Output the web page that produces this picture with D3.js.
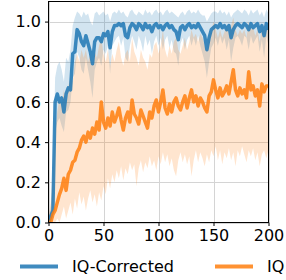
<!DOCTYPE html>
<html>
<head>
<meta charset="utf-8">
<script src="https://cdn.jsdelivr.net/npm/d3@7"></script>
<style>
  html, body { margin: 0; padding: 0; background: #fff; }
  svg { display: block; font-family: "DejaVu Sans", sans-serif; }
</style>
</head>
<body>
<div id="chart"></div>
<script>
// x positions, every 2 steps from 0 to 200
const steps = d3.range(0, 201, 2);

const xTicks = [0, 50, 100, 150, 200];
const yTicks = [0.0, 0.2, 0.4, 0.6, 0.8, 1.0];

const seriesNames = ["IQ-Corrected", "IQ"];

// IQ-Corrected mean and band
const correctedMean = [
  0.00, 0.03, 0.06, 0.60, 0.64, 0.60, 0.62, 0.55, 0.64, 0.67,
  0.66, 0.84, 0.85, 0.96, 0.94, 0.90, 0.88, 0.93, 0.89, 0.85,
  0.79, 0.90, 0.92, 0.92, 0.90, 0.94, 0.93, 0.95, 0.87, 0.95,
  0.98, 0.98, 0.99, 0.98, 0.99, 0.93, 0.92, 0.97, 0.99, 0.98,
  0.96, 0.99, 0.98, 0.96, 0.99, 0.97, 0.98, 0.95, 0.98, 0.99,
  0.97, 0.98, 0.96, 0.98, 0.99, 0.97, 0.98, 0.96, 0.95, 0.91,
  0.97, 0.98, 0.96, 0.98, 0.99, 0.97, 0.98, 0.97, 0.99, 0.97,
  0.95, 0.93, 0.86, 0.92, 0.96, 0.97, 0.98, 0.97, 0.99, 0.97,
  0.98, 0.96, 0.98, 0.92, 0.96, 0.98, 0.99, 0.98, 0.97, 0.99,
  0.98, 0.96, 0.99, 0.97, 0.98, 0.99, 0.95, 0.98, 0.93, 0.99,
  0.96
];
const correctedLow = [
  0.00, 0.00, 0.02, 0.45, 0.50, 0.52, 0.48, 0.45, 0.55, 0.56,
  0.60, 0.72, 0.74, 0.85, 0.82, 0.76, 0.74, 0.82, 0.76, 0.70,
  0.62, 0.76, 0.80, 0.82, 0.78, 0.86, 0.84, 0.88, 0.74, 0.88,
  0.90, 0.92, 0.93, 0.88, 0.92, 0.82, 0.80, 0.88, 0.93, 0.90,
  0.86, 0.93, 0.90, 0.85, 0.93, 0.88, 0.91, 0.84, 0.90, 0.93,
  0.88, 0.92, 0.86, 0.91, 0.93, 0.87, 0.91, 0.85, 0.84, 0.78,
  0.89, 0.92, 0.86, 0.91, 0.93, 0.88, 0.92, 0.88, 0.93, 0.88,
  0.84, 0.80, 0.72, 0.80, 0.87, 0.89, 0.92, 0.88, 0.93, 0.89,
  0.92, 0.86, 0.91, 0.80, 0.87, 0.92, 0.93, 0.91, 0.88, 0.93,
  0.92, 0.86, 0.93, 0.89, 0.91, 0.93, 0.85, 0.91, 0.82, 0.93,
  0.88
];
const correctedHigh = [
  0.02, 0.08, 0.20, 0.72, 0.78, 0.80, 0.76, 0.70, 0.82, 0.80,
  0.86, 0.98, 1.02, 1.05, 1.04, 1.02, 1.05, 1.03, 1.04, 1.00,
  0.98, 1.04, 1.05, 1.03, 1.04, 1.05, 1.03, 1.04, 1.00, 1.04,
  1.05, 1.04, 1.06, 1.04, 1.05, 1.03, 1.02, 1.05, 1.06, 1.04,
  1.03, 1.05, 1.04, 1.03, 1.06, 1.04, 1.05, 1.03, 1.05, 1.06,
  1.04, 1.05, 1.03, 1.05, 1.06, 1.04, 1.05, 1.04, 1.03, 1.02,
  1.04, 1.05, 1.03, 1.05, 1.06, 1.04, 1.05, 1.04, 1.06, 1.04,
  1.03, 1.03, 1.00, 1.02, 1.04, 1.05, 1.05, 1.04, 1.06, 1.04,
  1.05, 1.03, 1.05, 1.02, 1.04, 1.05, 1.06, 1.05, 1.04, 1.06,
  1.05, 1.03, 1.06, 1.04, 1.05, 1.06, 1.03, 1.05, 1.02, 1.06,
  1.04
];

// IQ mean and band
const iqMean = [
  0.00, 0.00, 0.04, 0.06, 0.10, 0.14, 0.17, 0.22, 0.16, 0.24,
  0.26, 0.30, 0.31, 0.35, 0.37, 0.41, 0.43, 0.40, 0.45, 0.42,
  0.47, 0.44, 0.50, 0.46, 0.60, 0.50, 0.47, 0.52, 0.48, 0.55,
  0.50, 0.53, 0.57, 0.51, 0.46, 0.52, 0.55, 0.50, 0.61, 0.54,
  0.52, 0.49, 0.56, 0.53, 0.50, 0.47, 0.55, 0.52, 0.58, 0.61,
  0.55, 0.60, 0.66, 0.57, 0.54, 0.59, 0.55, 0.60, 0.62, 0.58,
  0.56, 0.60, 0.63, 0.57, 0.62, 0.66, 0.60, 0.63, 0.58, 0.62,
  0.60, 0.57, 0.55, 0.63, 0.65, 0.71, 0.66, 0.62, 0.67, 0.63,
  0.65, 0.68, 0.64, 0.70, 0.76, 0.66, 0.63, 0.67, 0.64, 0.66,
  0.62, 0.75, 0.66, 0.68, 0.63, 0.66, 0.58, 0.69, 0.65, 0.68,
  0.68
];
const iqLow = [
  0.00, 0.00, 0.00, 0.00, 0.02, 0.00, 0.04, 0.08, 0.02, 0.06,
  0.10, 0.04, 0.12, 0.07, 0.15, 0.09, 0.13, 0.06, 0.12, 0.16,
  0.10, 0.14, 0.08, 0.15, 0.11, 0.18, 0.14, 0.22, 0.17, 0.24,
  0.20, 0.26, 0.22, 0.28, 0.21, 0.27, 0.24, 0.30, 0.26, 0.29,
  0.18, 0.27, 0.31, 0.25, 0.30, 0.27, 0.33, 0.28, 0.31, 0.26,
  0.33, 0.29, 0.35, 0.30, 0.34, 0.28, 0.32, 0.26, 0.23, 0.31,
  0.35, 0.30, 0.34, 0.29, 0.33, 0.23, 0.31, 0.36, 0.30, 0.35,
  0.32, 0.28, 0.34, 0.30, 0.36, 0.33, 0.38, 0.31, 0.36, 0.29,
  0.35, 0.32, 0.37, 0.31, 0.35, 0.28, 0.36, 0.33, 0.38, 0.34,
  0.30, 0.36, 0.33, 0.37, 0.31, 0.35, 0.28, 0.34, 0.36, 0.32,
  0.36
];
const iqHigh = [
  0.02, 0.10, 0.25, 0.45, 0.55, 0.62, 0.58, 0.66, 0.60, 0.68,
  0.72, 0.70, 0.80, 0.84, 0.80, 0.86, 0.82, 0.86, 0.80, 0.84,
  0.78, 0.85, 0.82, 0.88, 0.92, 0.84, 0.80, 0.86, 0.78, 0.84,
  0.80, 0.86, 0.90, 0.82, 0.78, 0.84, 0.86, 0.80, 0.92, 0.85,
  0.82, 0.78, 0.86, 0.82, 0.80, 0.76, 0.84, 0.82, 0.88, 0.90,
  0.84, 0.88, 0.96, 0.86, 0.82, 0.88, 0.84, 0.90, 0.92, 0.86,
  0.84, 0.88, 0.92, 0.86, 0.90, 0.96, 0.92, 0.94, 0.90, 0.94,
  0.92, 0.88, 0.86, 0.94, 0.95, 1.00, 0.96, 0.92, 0.96, 0.92,
  0.95, 0.98, 0.94, 0.98, 1.02, 0.96, 0.93, 0.96, 0.94, 0.96,
  0.92, 1.00, 0.96, 0.97, 0.93, 0.96, 0.90, 0.97, 0.95, 0.97,
  0.97
];

const width = 286;
const height = 280;
const margin = { top: 1.5, right: 17.5, bottom: 57.5, left: 48.5 };

const svg = d3.select("#chart")
  .append("svg")
  .attr("width", width)
  .attr("height", height);

const x = d3.scaleLinear()
  .domain([0, 200])
  .range([margin.left, width - margin.right]);

const y = d3.scaleLinear()
  .domain([0, 1.1])
  .range([height - margin.bottom, margin.top]);

// grid
svg.append("g")
  .selectAll("line.gx")
  .data(xTicks)
  .join("line")
  .attr("x1", d => Math.round(x(d)) + 0.5)
  .attr("x2", d => Math.round(x(d)) + 0.5)
  .attr("y1", y(1.1))
  .attr("y2", y(0))
  .attr("stroke", "#d4d4d4")
  .attr("stroke-width", 1);

svg.append("g")
  .selectAll("line.gy")
  .data(yTicks)
  .join("line")
  .attr("x1", x(0))
  .attr("x2", x(200))
  .attr("y1", d => Math.round(y(d)) + 0.5)
  .attr("y2", d => Math.round(y(d)) + 0.5)
  .attr("stroke", "#d4d4d4")
  .attr("stroke-width", 1);

const series = [
  { name: seriesNames[0], mean: correctedMean, lo: correctedLow, hi: correctedHigh, color: "#1f77b4" },
  { name: seriesNames[1], mean: iqMean, lo: iqLow, hi: iqHigh, color: "#ff7f0e" }
];

const clip = svg.append("clipPath").attr("id", "plot-clip")
  .append("rect")
  .attr("x", x(0))
  .attr("y", y(1.1))
  .attr("width", x(200) - x(0))
  .attr("height", y(0) - y(1.1));

const plot = svg.append("g").attr("clip-path", "url(#plot-clip)");

const area = d3.area()
  .x((d, i) => x(steps[i]))
  .y0(d => y(d[0]))
  .y1(d => y(d[1]));

const line = d3.line()
  .x((d, i) => x(steps[i]))
  .y(d => y(d));

// bands first, then the mean lines on top
series.forEach(s => {
  plot.append("path")
    .datum(s.lo.map((v, i) => [v, s.hi[i]]))
    .attr("fill", s.color)
    .attr("fill-opacity", 0.2)
    .attr("d", area);
});

series.forEach(s => {
  plot.append("path")
    .datum(s.mean)
    .attr("fill", "none")
    .attr("stroke", s.color)
    .attr("stroke-opacity", 0.85)
    .attr("stroke-width", 3.5)
    .attr("stroke-linejoin", "round")
    .attr("d", line);
});

// axes
const xAxis = svg.append("g")
  .attr("transform", `translate(0,${y(0)})`)
  .call(d3.axisBottom(x).tickValues(xTicks).tickSize(3.5).tickPadding(4).tickFormat(d3.format("d")));

const yAxis = svg.append("g")
  .attr("transform", `translate(${x(0)},0)`)
  .call(d3.axisLeft(y).tickValues(yTicks).tickSize(3.5).tickPadding(4).tickFormat(d3.format(".1f")));

[xAxis, yAxis].forEach(a => {
  a.select(".domain").remove();
  a.selectAll("text")
    .attr("font-family", "DejaVu Sans, sans-serif")
    .attr("font-size", 16)
    .attr("fill", "#000");
  a.selectAll("line").attr("stroke", "#000");
});

// frame
svg.append("rect")
  .attr("x", x(0))
  .attr("y", y(1.1))
  .attr("width", x(200) - x(0))
  .attr("height", y(0) - y(1.1))
  .attr("fill", "none")
  .attr("stroke", "#000")
  .attr("stroke-width", 1);

// legend below the plot
const legendX = [20, 215];
const legend = svg.append("g");
series.forEach((s, i) => {
  legend.append("line")
    .attr("x1", legendX[i])
    .attr("x2", legendX[i] + 38)
    .attr("y1", 266.5)
    .attr("y2", 266.5)
    .attr("stroke", s.color)
    .attr("stroke-opacity", 0.85)
    .attr("stroke-width", 4);
  legend.append("text")
    .attr("x", legendX[i] + 52)
    .attr("y", 266.5)
    .attr("dy", "0.36em")
    .attr("font-size", 16)
    .attr("fill", "#000")
    .text(s.name);
});
</script>
</body>
</html>
